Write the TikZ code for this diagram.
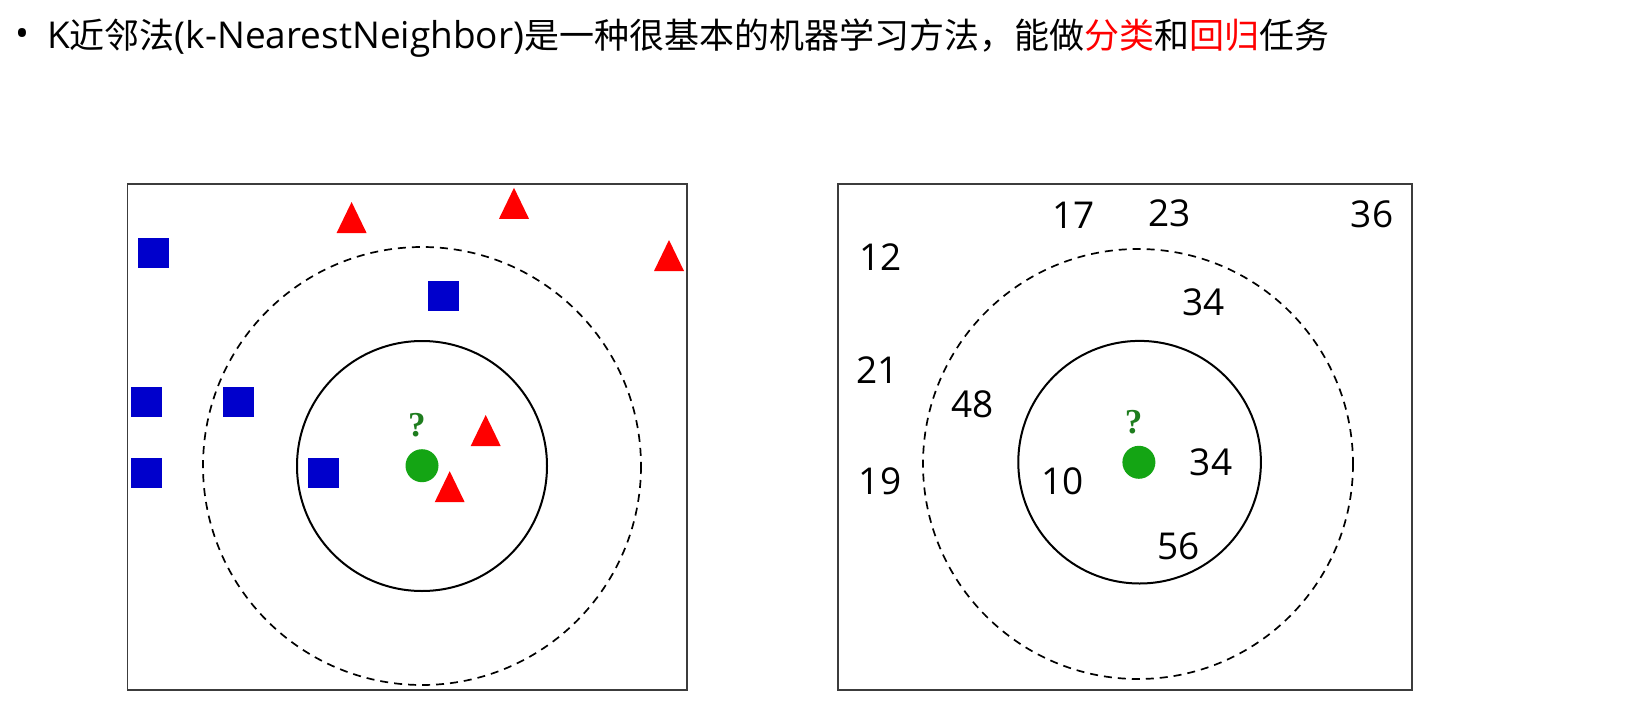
\documentclass[tikz,border=0pt]{standalone}
\usepackage{fontspec}
\usepackage{xcolor}
\usepackage{tikz}
\usetikzlibrary{positioning}
\newfontfamily\cjk{Noto Sans CJK SC}
\newfontfamily\lat{Open Sans}
\newfontfamily\qfont{Liberation Serif}
\newcommand\latin[1]{{\lat\fontsize{37}{40}\selectfont #1}}
\definecolor{sqblue}{RGB}{0,0,204}
\definecolor{dotgreen}{RGB}{20,165,20}
\definecolor{qgreen}{RGB}{30,125,30}
\definecolor{boxgray}{RGB}{60,60,60}
\begin{document}
\begin{tikzpicture}[
			x = 1pt, y = -1pt,
			every node/.style = {inner sep=0pt},
			bsq/.style = {fill=sqblue, minimum width=31pt, minimum height=30pt},
			dot/.style = {circle, fill=dotgreen, minimum size=33pt},
			num/.style = {font=\lat\fontsize{37}{40}\selectfont},
			qmark/.style = {text=qgreen, font=\qfont\bfseries\fontsize{35}{35}\selectfont},
			frame/.style = {boxgray, line width=1.3pt},
			ring/.style = {black, line width=2pt},
			dring/.style = {black, line width=1.7pt, dash pattern=on 8pt off 6pt},
			tri/.pic = {\fill[red] (-15,15.5) -- (15,15.5) -- (0,-15.5) -- cycle;}
		]
			\useasboundingbox[fill=white] (0,0) rectangle (1647,717);

			% title
			\node[font=\lat\fontsize{37}{40}\selectfont] (bullet) at (22,38) {•};
			\node[anchor=base west, font=\cjk\fontsize{35}{40}\selectfont] (title) at (47,49)
				{\latin{K}近邻法\latin{(k-NearestNeighbor)}是一种很基本的机器学习方法，能做\textcolor{red}{分类}和\textcolor{red}{回归}任务};

			% classification
			\draw[frame] (127.5,184) rectangle (687,690);
			\draw[dring] (422,466) circle (219);
			\draw[ring] (422,466) circle (125);

			\node[bsq] (s1) at (153.4,253.3) {};
			\node[bsq] (s2) at (443,296) {};
			\node[bsq] (s3) at (146.2,402.3) {};
			\node[bsq] (s4) at (238.3,402.3) {};
			\node[bsq] (s5) at (146.2,472.5) {};
			\node[bsq] (s6) at (323.2,472.5) {};

			\pic at (351.6,217.5) {tri};
			\pic at (514,203.3) {tri};
			\pic at (669,255.5) {tri};
			\pic at (485.7,430.5) {tri};
			\pic at (449.7,486.7) {tri};

			\node[dot] (c1) at (422,465.7) {};
			\node[qmark] (q1) at (416.8,425) {?};

			% regression
			\draw[frame] (838,184) rectangle (1412,690);
			\draw[dring] (1138,464) circle (215);
			\draw[ring] (1139.6,462.2) circle (121.3);

			\node[dot] (c2) at (1138.9,462.3) {};
			\node[qmark] (q2) at (1133.6,421.7) {?};

			\node[num] (n17) at (1073.6,215) {17};
			\node[num] (n23) at (1169.3,213.3) {23};
			\node[num] (n36) at (1372,214) {36};
			\node[num] (n12) at (880.7,257.3) {12};
			\node[num] (n34a) at (1203.2,302.7) {34};
			\node[num] (n21) at (877.9,370) {21};
			\node[num] (n48) at (972.5,404.3) {48};
			\node[num] (n19) at (880,481.7) {19};
			\node[num] (n10) at (1062.9,481.7) {10};
			\node[num] (n34b) at (1211,462.7) {34};
			\node[num] (n56) at (1178.9,546) {56};

		\end{tikzpicture}
\end{document}
